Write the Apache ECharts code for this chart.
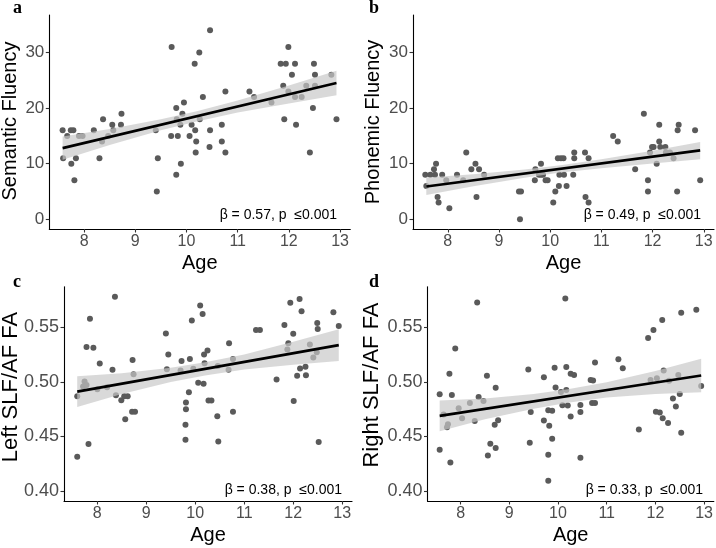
<!DOCTYPE html>
<html><head><meta charset="utf-8">
<script src="https://cdn.jsdelivr.net/npm/echarts@6/dist/echarts.min.js"></script>
<style>html,body{margin:0;padding:0;background:#fff}#c{width:716px;height:548px}</style>
</head><body><div id="c"></div>
<script>
// ---------- DATA ----------
const xTicks = [8, 9, 10, 11, 12, 13];
const fluencyTicks = [0, 10, 20, 30];
const faTicks = [0.40, 0.45, 0.50, 0.55];

const semanticPts = [[7.58,16],[7.59,11],[7.67,15],[7.74,16],[7.79,16],[7.75,10],[7.84,11],[7.81,7],[7.90,15],[7.97,15],[8.19,16],[8.30,11],[8.35,14],[8.37,18],[8.47,15],[8.55,17],[8.57,16],[8.72,17],[8.73,19],[9.40,16],[9.44,11],[9.42,5],[9.71,31],[9.70,15],[9.80,20],[9.80,8],[9.83,15],[9.81,18],[9.88,17],[9.89,10],[9.92,19],[9.95,21],[10.06,15],[10.10,17],[10.16,28],[10.17,16],[10.19,14],[10.18,12],[10.25,30],[10.26,18],[10.32,22],[10.46,34],[10.46,16],[10.45,13],[10.69,17],[10.69,14],[10.76,23],[10.76,12],[11.23,23],[11.32,22],[11.66,21],[11.84,28],[11.89,24],[11.91,18],[11.94,28],[11.99,31],[11.99,23],[12.06,26],[12.12,28],[12.12,22],[12.14,17],[12.25,22],[12.34,24],[12.41,12],[12.47,20],[12.49,28],[12.51,26],[12.51,24],[12.83,26],[12.93,18]];
const phonemicPts = [[7.56,8],[7.58,6],[7.66,8],[7.73,9],[7.75,8],[7.77,10],[7.80,4],[7.82,3],[7.89,8],[7.97,7],[8.03,2],[8.18,8],[8.30,7],[8.36,12],[8.46,9],[8.54,10],[8.56,4],[8.61,9],[8.71,8],[9.39,5],[9.43,5],[9.41,0],[9.70,7],[9.71,9],[9.78,8],[9.82,10],[9.82,8],[9.86,8],[9.91,7],[9.95,7],[10.06,3],[10.10,5],[10.15,11],[10.21,11],[10.26,11],[10.17,6],[10.18,8],[10.27,8],[10.32,6],[10.47,12],[10.47,11],[10.45,8],[10.68,12],[10.69,4],[10.75,11],[10.75,3],[11.23,15],[11.32,14],[11.66,9],[11.83,19],[11.91,7],[11.91,5],[11.95,12],[11.99,13],[12.02,13],[12.08,10],[12.13,17],[12.13,14],[12.15,13],[12.25,13],[12.26,12],[12.34,12],[12.41,11],[12.48,5],[12.49,16],[12.51,17],[12.83,16],[12.93,7]];
const leftFAPts = [[7.59,0.4315],[7.59,0.4868],[7.74,0.5002],[7.71,0.4956],[7.78,0.497],[7.78,0.5317],[7.82,0.4431],[7.85,0.5577],[7.92,0.5311],[8.0,0.4932],[8.05,0.5167],[8.20,0.4950],[8.31,0.5109],[8.36,0.5778],[8.38,0.4877],[8.49,0.4831],[8.55,0.4868],[8.57,0.4657],[8.62,0.4868],[8.72,0.5198],[8.71,0.4727],[8.77,0.4727],[8.74,0.5069],[9.40,0.5442],[9.42,0.5115],[9.45,0.525],[9.72,0.5189],[9.70,0.5103],[9.81,0.481],[9.81,0.4749],[9.80,0.4608],[9.80,0.447],[9.87,0.4904],[9.89,0.5207],[9.93,0.5561],[9.96,0.5118],[10.06,0.499],[10.10,0.5696],[10.15,0.5619],[10.17,0.4981],[10.18,0.525],[10.19,0.517],[10.25,0.5286],[10.27,0.4828],[10.33,0.4828],[10.46,0.5143],[10.45,0.4684],[10.47,0.4455],[10.69,0.5353],[10.68,0.5109],[10.77,0.5207],[10.77,0.4727],[11.24,0.5473],[11.32,0.5473],[11.66,0.502],[11.82,0.5518],[11.90,0.5353],[11.88,0.5295],[11.94,0.5723],[12.0,0.5439],[12.01,0.4825],[12.08,0.5054],[12.13,0.5757],[12.14,0.5121],[12.17,0.5644],[12.25,0.5137],[12.26,0.506],[12.34,0.5341],[12.41,0.5222],[12.49,0.5537],[12.50,0.5482],[12.48,0.527],[12.52,0.4449],[12.82,0.5635],[12.93,0.5509]];
const rightFAPts = [[7.57,0.4885],[7.57,0.4379],[7.65,0.47],[7.72,0.4585],[7.74,0.4612],[7.77,0.5073],[7.79,0.4261],[7.82,0.4879],[7.89,0.5303],[7.96,0.4758],[8.03,0.4667],[8.19,0.4806],[8.29,0.4642],[8.34,0.5724],[8.37,0.4861],[8.47,0.4824],[8.54,0.5055],[8.56,0.4327],[8.61,0.4433],[8.70,0.4606],[8.72,0.4945],[8.72,0.4394],[8.77,0.4648],[9.39,0.5112],[9.42,0.4442],[9.44,0.4724],[9.71,0.5042],[9.71,0.4645],[9.80,0.4739],[9.80,0.4333],[9.80,0.4094],[9.82,0.4597],[9.88,0.4736],[9.88,0.4479],[9.93,0.5127],[9.95,0.4948],[10.06,0.4906],[10.09,0.4785],[10.15,0.5761],[10.17,0.5136],[10.17,0.4924],[10.20,0.4782],[10.26,0.5073],[10.26,0.4682],[10.33,0.5061],[10.46,0.4788],[10.46,0.4724],[10.46,0.4306],[10.67,0.5015],[10.72,0.5012],[10.70,0.4806],[10.76,0.4806],[10.76,0.5176],[11.24,0.5206],[11.33,0.5124],[11.66,0.4564],[11.85,0.54],[11.90,0.5015],[11.96,0.5473],[12.01,0.4727],[12.03,0.5033],[12.09,0.4718],[12.14,0.5564],[12.15,0.4667],[12.17,0.5103],[12.26,0.4624],[12.28,0.5009],[12.36,0.4848],[12.42,0.4773],[12.47,0.5061],[12.50,0.4888],[12.53,0.563],[12.53,0.4533],[12.84,0.5658],[12.94,0.4961]];

// regression fits (end points) and confidence band
const semanticFitX = [7.58, 12.93], semanticFitY = [12.8, 24.5];
const phonemicFitX = [7.58, 12.93], phonemicFitY = [5.9, 12.4];
const leftFAFitX = [7.59, 12.93], leftFAFitY = [0.491, 0.5335];
const rightFAFitX = [7.57, 12.94], rightFAFitY = [0.4688, 0.5058];

const semanticBandX = [7.58, 8.5, 9.5, 10.2, 11, 12, 12.93];
const semanticBandLo = [10.7, 13.35, 16.0, 17.6, 19.2, 20.85, 22.3];
const semanticBandHi = [14.9, 16.25, 18.0, 19.45, 21.35, 24.05, 26.7];
const phonemicBandX = [7.58, 8.5, 9.5, 10.2, 11, 12, 12.93];
const phonemicBandLo = [4.35, 5.95, 7.45, 8.4, 9.2, 10.05, 10.8];
const phonemicBandHi = [7.5, 8.1, 8.95, 9.7, 10.8, 12.35, 13.9];
const leftFABandX = [7.59, 8.5, 9.5, 10.2, 11, 12, 12.93];
const leftFABandLo = [0.477, 0.4887, 0.4997, 0.5058, 0.5113, 0.5156, 0.519];
const leftFABandHi = [0.505, 0.5077, 0.5127, 0.5178, 0.5249, 0.5366, 0.548];
const rightFABandX = [7.57, 8.5, 9.5, 10.2, 11, 12, 12.94];
const rightFABandLo = [0.4548, 0.4657, 0.4753, 0.4807, 0.4855, 0.4888, 0.4905];
const rightFABandHi = [0.4828, 0.4847, 0.4889, 0.4931, 0.4995, 0.5098, 0.5211];

const panelLetters = ['a', 'b', 'c', 'd'];
const yTitles = ['Semantic Fluency', 'Phonemic Fluency', 'Left SLF/AF FA', 'Right SLF/AF FA'];
const xTitle = 'Age';
const statTexts = ['\u03B2 = 0.57, p  \u22640.001', '\u03B2 = 0.49, p  \u22640.001', '\u03B2 = 0.38, p  \u22640.001', '\u03B2 = 0.33, p  \u22640.001'];

// ---------- LAYOUT ----------
const panels = [
  {grid:{left:49.3, top:15, width:301, height:214}, ymin:-1.75, ymax:36.75, yt:fluencyTicks, fmt:v=>String(v), ylf:17, ytf:20,
   pts:semanticPts, fx:semanticFitX, fy:semanticFitY, bx:semanticBandX, bl:semanticBandLo, bh:semanticBandHi,
   letter:[13, 8.5], ytitle:[10, 121], stat:[337, 215]},
  {grid:{left:413, top:15, width:301, height:214}, ymin:-1.75, ymax:36.75, yt:fluencyTicks, fmt:v=>String(v), ylf:17, ytf:20,
   pts:phonemicPts, fx:phonemicFitX, fy:phonemicFitY, bx:phonemicBandX, bl:phonemicBandLo, bh:phonemicBandHi,
   letter:[369, 8.5], ytitle:[373, 122], stat:[701, 215]},
  {grid:{left:64, top:286.7, width:288, height:214.3}, ymin:0.391, ymax:0.5869, yt:faTicks, fmt:v=>v.toFixed(2), ylf:18, ytf:22,
   pts:leftFAPts, fx:leftFAFitX, fy:leftFAFitY, bx:leftFABandX, bl:leftFABandLo, bh:leftFABandHi,
   letter:[13, 282.5], ytitle:[10.7, 387], stat:[342, 490]},
  {grid:{left:427.5, top:286.7, width:286.5, height:214.3}, ymin:0.391, ymax:0.5869, yt:faTicks, fmt:v=>v.toFixed(2), ylf:18, ytf:22,
   pts:rightFAPts, fx:rightFAFitX, fy:rightFAFitY, bx:rightFABandX, bl:rightFABandLo, bh:rightFABandHi,
   letter:[369, 282], ytitle:[372.3, 385], stat:[703, 490]}
];

const FONT = '"Liberation Sans", Arial, sans-serif';
const grid = [], xAxis = [], yAxis = [], series = [], graphic = [];

panels.forEach((p, i) => {
  grid.push(Object.assign({containLabel:false}, p.grid));
  xAxis.push({
    type:'value', gridIndex:i, min:7.32, max:13.2,
    splitLine:{show:false},
    axisLine:{show:true, onZero:false, lineStyle:{color:'#000', width:1.1}},
    axisTick:{show:true, length:3.5, customValues:xTicks, lineStyle:{color:'#333', width:1.1}},
    axisLabel:{customValues:xTicks, margin:5, color:'#4d4d4d', fontSize:16, fontFamily:FONT},
    name:xTitle, nameLocation:'middle', nameGap:24,
    nameTextStyle:{color:'#000', fontSize:20, fontFamily:FONT}
  });
  yAxis.push({
    type:'value', gridIndex:i, min:p.ymin, max:p.ymax,
    splitLine:{show:false},
    axisLine:{show:true, onZero:false, lineStyle:{color:'#000', width:1.1}},
    axisTick:{show:true, length:3.5, customValues:p.yt, lineStyle:{color:'#333', width:1.1}},
    axisLabel:{customValues:p.yt, margin:5, color:'#4d4d4d', fontSize:p.ylf, fontFamily:FONT, formatter:p.fmt}
  });
  series.push({
    type:'scatter', xAxisIndex:i, yAxisIndex:i, data:p.pts, symbolSize:6, z:2,
    itemStyle:{color:'#5a5a5a', opacity:1}, silent:true
  });
  series.push({
    type:'custom', xAxisIndex:i, yAxisIndex:i, z:3, silent:true,
    data:[[p.bx[0], p.bl[0]]],
    renderItem:(params, api) => {
      const up = p.bx.map((x, k) => api.coord([x, p.bh[k]]));
      const lo = p.bx.map((x, k) => api.coord([x, p.bl[k]])).reverse();
      return {type:'polygon', shape:{points:up.concat(lo), smooth:0}, style:{fill:'rgba(200,200,200,0.69)', stroke:null}};
    }
  });
  series.push({
    type:'line', xAxisIndex:i, yAxisIndex:i, z:4, silent:true, symbol:'none',
    data:p.fx.map((x, k) => [x, p.fy[k]]),
    lineStyle:{color:'#000', width:2.6}
  });
  graphic.push({type:'text', x:p.letter[0], y:p.letter[1], style:{text:panelLetters[i], font:'bold 18px "Liberation Serif", "Times New Roman", serif', fill:'#000', textAlign:'left', textVerticalAlign:'middle'}});
  graphic.push({type:'text', x:p.ytitle[0], y:p.ytitle[1], rotation:Math.PI/2, style:{text:yTitles[i], font:p.ytf + 'px ' + FONT, fill:'#000', textAlign:'center', textVerticalAlign:'middle'}});
  graphic.push({type:'text', x:p.stat[0], y:p.stat[1], style:{text:statTexts[i], font:'14px ' + FONT, fill:'#000', textAlign:'right', textVerticalAlign:'middle'}});
});

const chart = echarts.init(document.getElementById('c'), null, {renderer:'canvas'});
chart.setOption({animation:false, backgroundColor:'#fff', grid, xAxis, yAxis, series, graphic});
</script>
</body></html>
